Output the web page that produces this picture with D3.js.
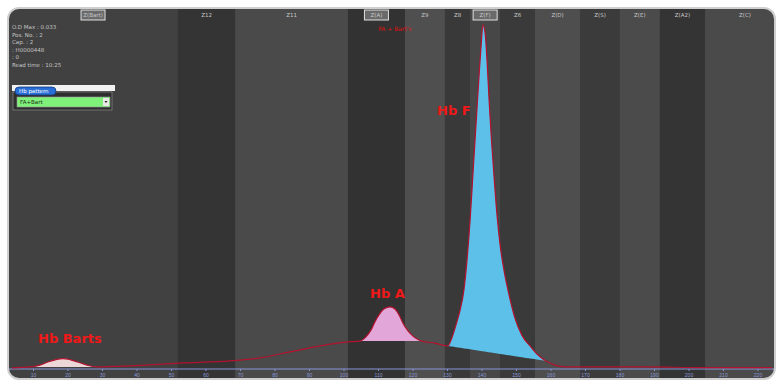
<!DOCTYPE html>
<html>
<head>
<meta charset="utf-8">
<script src="https://cdn.jsdelivr.net/npm/d3@7"></script>
<style>
  body { margin: 0; background: #fff; }
  svg { display: block; font-family: "DejaVu Sans", sans-serif; }
</style>
</head>
<body>
<div id="chart"></div>
<script>
// electropherogram trace: migration position vs. absorbance (% of O.D. max)
const tracePos = [3.9, 9.1, 12.0, 14.3, 16.7, 18.7, 20.7, 23.0, 25.7, 28.6, 38.1, 52.6, 67.1, 75.8, 84.5, 93.2, 100.4,
  104.8, 106.5, 108.0, 109.1, 110.3, 111.7, 113.5, 114.9, 116.1, 117.2, 118.7, 120.4, 122.7, 126.5, 130.3,
  131.4, 132.6, 133.8, 134.9, 135.8, 136.7, 137.5, 138.4, 139.3, 139.9, 140.4, 141.0, 141.6, 142.2, 142.8,
  143.6, 144.5, 145.4, 146.5, 148.0, 149.7, 151.7, 154.1, 156.4, 158.7, 161.3, 164.2, 174.3, 188.8, 203.3, 224.2];
const traceVal = [0.3, 0.6, 1.1, 2.0, 2.7, 3.0, 2.7, 2.0, 1.1, 0.6, 0.9, 1.7, 2.3, 3.2, 4.9, 6.6, 7.7,
  8.0, 9.2, 11.2, 13.5, 15.5, 17.2, 17.8, 17.2, 15.5, 13.2, 10.9, 9.2, 8.0, 7.4, 6.6,
  8.9, 12.6, 16.9, 22.6, 31.2, 42.7, 55.6, 69.9, 84.2, 92.8, 98.6, 96.6, 88.5, 77.1, 67.0,
  55.6, 44.1, 35.5, 28.4, 21.2, 14.6, 9.7, 6.6, 4.0, 2.3, 1.1, 0.6, 0.6, 0.6, 0.4, 0.4];

// zones (background bands) and their header labels
const zoneNames = ["Z(Bart)", "Z12", "Z11", "Z(A)", "Z9", "Z8", "Z(F)", "Z6", "Z(D)", "Z(S)", "Z(E)", "Z(A2)", "Z(C)"];
const zoneEdges = [2.8, 52.0, 68.6, 101.3, 117.8, 129.4, 136.7, 145.4, 155.5, 168.6, 180.1, 191.7, 204.8, 225.1];
const boxedZones = ["Z(Bart)", "Z(A)", "Z(F)"];

// identified fractions
const peakNames = ["Hb Barts", "Hb A", "Hb F"];
const peakFrom = [9.1, 104.8, 130.3];
const peakTo = [28.6, 122.7, 158.7];

const tickLabels = [10, 20, 30, 40, 50, 60, 70, 80, 90, 100, 110, 120, 130, 140, 150, 160, 170, 180, 190, 200, 210, 220];

const infoLines = ["O.D Max : 0.033", "Pos. No. : 2", "Cap. : 2", ": H0000448", ": 0", "Read time : 10:25"];

const width = 777, height = 381;
const panel = { x: 8, y: 8, w: 767, h: 371, r: 11 };

const svg = d3.select("#chart").append("svg")
  .attr("width", width)
  .attr("height", height);

const x = d3.scaleLinear().domain([0, 220]).range([-1.5, 757.5]);
const y = d3.scaleLinear().domain([0, 100]).range([369, 20]);

svg.append("clipPath").attr("id", "panelClip")
  .append("rect")
  .attr("x", panel.x).attr("y", panel.y)
  .attr("width", panel.w).attr("height", panel.h)
  .attr("rx", panel.r);

const g = svg.append("g").attr("clip-path", "url(#panelClip)");

g.append("rect")
  .attr("x", panel.x).attr("y", panel.y)
  .attr("width", panel.w).attr("height", panel.h)
  .attr("fill", "#404040");

const bandShades = ["#414141", "#343434", "#4a4a4a", "#323232", "#4f4f4f", "#393939", "#474747",
  "#3a3a3a", "#4e4e4e", "#3b3b3b", "#4b4b4b", "#343434", "#4a4a4a"];

g.selectAll("rect.band")
  .data(zoneNames)
  .enter().append("rect")
  .attr("class", "band")
  .attr("x", (d, i) => x(zoneEdges[i]))
  .attr("y", panel.y)
  .attr("width", (d, i) => x(zoneEdges[i + 1]) - x(zoneEdges[i]))
  .attr("height", panel.h)
  .attr("fill", (d, i) => bandShades[i]);

// zone header labels
const headers = g.selectAll("g.zlabel")
  .data(zoneNames)
  .enter().append("g")
  .attr("class", "zlabel")
  .attr("transform", (d, i) => {
    let cx = (x(zoneEdges[i]) + x(zoneEdges[i + 1])) / 2;
    if (i === zoneNames.length - 1) cx = 745;
    return `translate(${cx},15)`;
  });

headers.filter(d => boxedZones.includes(d))
  .append("rect")
  .attr("x", -12).attr("y", -5)
  .attr("width", 24).attr("height", 10)
  .attr("fill", "#6a6a6a")
  .attr("stroke", "#e0e0e0")
  .attr("stroke-width", 1);

headers.append("text")
  .attr("text-anchor", "middle")
  .attr("dy", "0.35em")
  .style("font-size", "5.5px")
  .style("fill", "#c8c8c8")
  .text(d => d);

g.append("text")
  .attr("x", 395).attr("y", 31)
  .attr("text-anchor", "middle")
  .style("font-size", "6px")
  .style("fill", "#e01010")
  .text("FA + Bart's");

// info block
g.selectAll("text.info")
  .data(infoLines)
  .enter().append("text")
  .attr("class", "info")
  .attr("x", 12)
  .attr("y", (d, i) => 29 + i * 7.5)
  .style("font-size", "5.5px")
  .style("fill", "#c4c4c4")
  .text(d => d);

// Hb pattern widget
const w = g.append("g");
w.append("rect").attr("x", 12).attr("y", 85).attr("width", 103).attr("height", 6).attr("fill", "#f2f2f2");
w.append("rect").attr("x", 13).attr("y", 92).attr("width", 99).attr("height", 18)
  .attr("fill", "#2e2e2e").attr("stroke", "#8a8a8a").attr("stroke-width", 0.7);
w.append("rect").attr("x", 17).attr("y", 97).attr("width", 93).attr("height", 10)
  .attr("fill", "#7ff07a").attr("stroke", "#9a9a9a").attr("stroke-width", 0.6);
w.append("rect").attr("x", 103).attr("y", 98).attr("width", 6).attr("height", 8).attr("fill", "#e8e8e8");
w.append("path").attr("d", "M104.5,101 L107.5,101 L106,103 Z").attr("fill", "#222");
w.append("text").attr("x", 20).attr("y", 104).style("font-size", "5.5px").style("fill", "#203020").text("FA+Bart");
w.append("rect").attr("x", 15).attr("y", 87).attr("width", 41).attr("height", 8).attr("rx", 4)
  .attr("fill", "#2a6fd6").attr("stroke", "#123a80").attr("stroke-width", 0.8);
w.append("text").attr("x", 19).attr("y", 93).style("font-size", "5.5px").style("fill", "#fff").text("Hb pattern");

// axis
const axis = d3.axisBottom(x)
  .tickValues(tickLabels)
  .tickSize(2)
  .tickPadding(2)
  .tickFormat(d => d);

const axisG = g.append("g")
  .attr("transform", `translate(0,${y(0)})`)
  .call(axis);
axisG.select(".domain").remove();
axisG.selectAll(".tick line").attr("stroke", "#7f8fd0");
axisG.selectAll(".tick text").style("font-size", "5px").style("fill", "#8a98d8");

g.append("line")
  .attr("x1", panel.x).attr("x2", panel.x + panel.w)
  .attr("y1", y(0)).attr("y2", y(0))
  .attr("stroke", "#8a96d8").attr("stroke-width", 1.2);

// peak fills
const trace = tracePos.map((p, i) => ({ p, v: traceVal[i] }));
const peakFills = ["#ecd6d8", "#e3a6d8", "#5cc0e8"];

peakNames.forEach((name, k) => {
  const a = trace.find(d => d.p === peakFrom[k]);
  const b = trace.find(d => d.p === peakTo[k]);
  const seg = trace.filter(d => d.p >= peakFrom[k] && d.p <= peakTo[k]);
  const base = p => a.v + (b.v - a.v) * (p - a.p) / (b.p - a.p);
  const area = d3.area()
    .x(d => x(d.p))
    .y0(d => y(base(d.p)))
    .y1(d => y(d.v))
    .curve(d3.curveMonotoneX);
  g.append("path")
    .datum(seg)
    .attr("d", area)
    .attr("fill", peakFills[k]);
});

const line = d3.line()
  .x(d => x(d.p))
  .y(d => y(d.v))
  .curve(d3.curveMonotoneX);

g.append("path")
  .datum(trace)
  .attr("d", line)
  .attr("fill", "none")
  .attr("stroke", "#b3122e")
  .attr("stroke-width", 1.2);

// peak labels
const labelPos = [[38, 343], [370, 298], [437, 115]];
g.selectAll("text.peak")
  .data(peakNames)
  .enter().append("text")
  .attr("class", "peak")
  .attr("x", (d, i) => labelPos[i][0])
  .attr("y", (d, i) => labelPos[i][1])
  .style("font-size", "13px")
  .style("font-weight", "bold")
  .style("fill", "#f01818")
  .text(d => d);

// panel border
svg.append("rect")
  .attr("x", panel.x).attr("y", panel.y)
  .attr("width", panel.w).attr("height", panel.h)
  .attr("rx", panel.r)
  .attr("fill", "none")
  .attr("stroke", "#cfcfcf")
  .attr("stroke-width", 2);
</script>
</body>
</html>
